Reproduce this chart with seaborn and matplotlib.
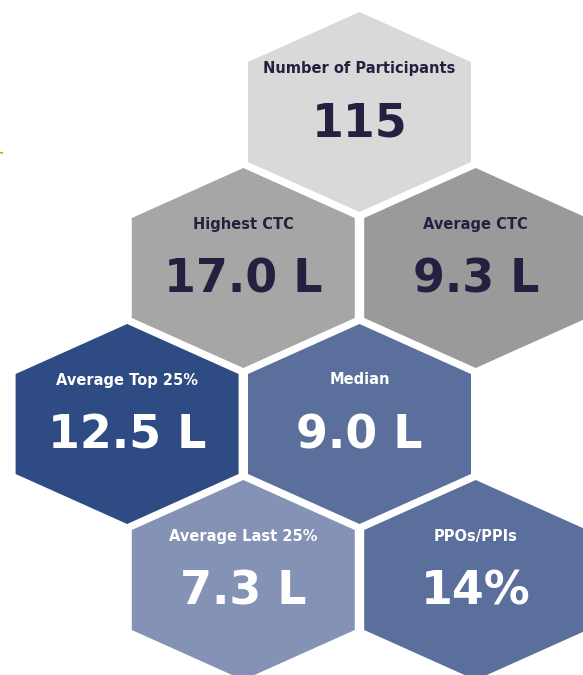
import numpy as np
import matplotlib.pyplot as plt
import seaborn as sns

# metric tiles
labels = ['Number of Participants', 'Highest CTC', 'Average CTC',
          'Average Top 25%', 'Median', 'Average Last 25%', 'PPOs/PPIs']
values = ['115', '17.0 L', '9.3 L', '12.5 L', '9.0 L', '7.3 L', '14%']
fills = ['#d9d9d9', '#a6a6a6', '#9a9a9a', '#2e4b83', '#5a6f9c', '#8492b5', '#5a6f9c']
text_colors = ['#24203f', '#24203f', '#24203f', 'white', 'white', 'white', 'white']

# honeycomb slots (column, row) for each tile
cols = [2, 1, 3, 0, 2, 1, 3]
rows = [0, 1, 1, 2, 2, 3, 3]

DX, DY = 116.2, 156.0          # spacing between neighbouring cells
X0, Y0 = 127.1, 112.0
HALF_W, R = 111.5, 100.0        # hexagon half width / circumradius (vertical)


def hexagon(cx, cy):
    ang = np.deg2rad(np.arange(6) * 60 + 90)
    return cx + HALF_W * np.cos(ang) / np.cos(np.pi / 6), cy - R * np.sin(ang)


def create_plot():
    sns.set_theme(style="white")
    plt.rcParams['font.family'] = ['DejaVu Sans']

    fig = plt.figure(figsize=(5.83, 6.75), dpi=100)
    ax = fig.add_axes([0, 0, 1, 1])
    ax.set_xlim(0, 583)
    ax.set_ylim(675, 0)
    ax.axis('off')

    for lab, val, fc, tc, c, r in zip(labels, values, fills, text_colors, cols, rows):
        cx = X0 + c * DX
        cy = Y0 + r * DY
        xs, ys = hexagon(cx, cy)
        ax.fill(xs, ys, color=fc, lw=0)
        ax.text(cx, cy - 44, lab, ha='center', va='center', fontsize=10.5,
                fontweight='bold', color=tc)
        ax.text(cx, cy + 12, val, ha='center', va='center', fontsize=33,
                fontweight='bold', color=tc)

    # small gold fragment at the left edge
    ax.plot([0, 2.5], [152.5, 153], color='#d4a017', lw=1.2)

    fig.savefig('out.png', dpi=100, facecolor='white')
    plt.close(fig)


if __name__ == "__main__":
    create_plot()
